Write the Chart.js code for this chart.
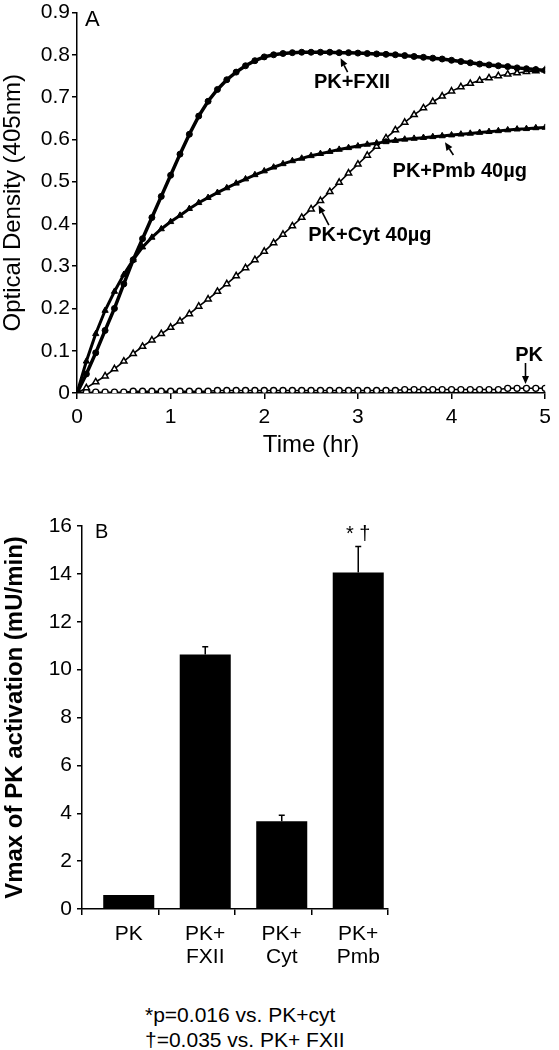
<!DOCTYPE html>
<html>
<head>
<meta charset="utf-8">
<script src="https://cdn.jsdelivr.net/npm/chart.js@4.4.1/dist/chart.umd.min.js"></script>
<style>
  body { margin: 0; background: #fff; }
  #wrap { position: relative; width: 559px; height: 1050px; }
  canvas { position: absolute; left: 0; }
  #chartA { top: 0; }
  #chartB { top: 480px; }
  .note { position: absolute; left: 145px; top: 1002px; font: 21px/25px "Liberation Sans", Arial, sans-serif; color: #000; }
</style>
</head>
<body>
<div id="wrap">
  <canvas id="chartA" width="559" height="470"></canvas>
  <canvas id="chartB" width="559" height="520"></canvas>
  <div class="note">*p=0.016 vs. PK+cyt<br>†=0.035 vs. PK+ FXII</div>
</div>
<script>
// Panel A - optical density over time (hr)
const times = [0, 0.1, 0.2, 0.3, 0.4, 0.5, 0.6, 0.7, 0.8, 0.9,
  1, 1.1, 1.2, 1.3, 1.4, 1.5, 1.6, 1.7, 1.8, 1.9,
  2, 2.1, 2.2, 2.3, 2.4, 2.5, 2.6, 2.7, 2.8, 2.9,
  3, 3.1, 3.2, 3.3, 3.4, 3.5, 3.6, 3.7, 3.8, 3.9,
  4, 4.1, 4.2, 4.3, 4.4, 4.5, 4.6, 4.7, 4.8, 4.9, 5];

const odFXII = [0, .045, .095, .148, .2, .258, .315, .365, .415, .465,
  .515, .565, .612, .655, .69, .718, .741, .759, .774, .786,
  .795, .8, .803, .805, .806, .806, .806, .806, .805, .805,
  .804, .803, .802, .801, .8, .798, .796, .794, .792, .79,
  .787, .784, .781, .778, .776, .774, .772, .769, .767, .765, .763];

const odPmb = [0, .075, .14, .195, .24, .28, .315, .345, .368, .388,
  .405, .42, .436, .45, .462, .474, .485, .496, .506, .516,
  .525, .534, .542, .549, .555, .561, .566, .571, .576, .58,
  .584, .588, .591, .594, .597, .6, .602, .604, .606, .608,
  .61, .612, .614, .616, .618, .62, .622, .624, .625, .627, .628];

const odCyt = [0, .012, .026, .04, .057, .075, .093, .11, .125, .14,
  .155, .17, .187, .205, .222, .24, .258, .277, .296, .315,
  .335, .355, .375, .395, .415, .435, .455, .476, .498, .52,
  .541, .562, .583, .603, .622, .64, .658, .674, .689, .702,
  .714, .724, .732, .739, .745, .75, .754, .757, .76, .762, .764];

const odPK = [.002, .002, .002, .002, .002, .002, .004, .004, .004, .004,
  .004, .004, .004, .004, .004, .006, .006, .006, .006, .006,
  .006, .006, .006, .006, .006, .006, .006, .006, .006, .006,
  .006, .006, .006, .006, .006, .008, .008, .008, .008, .008,
  .008, .008, .008, .008, .008, .008, .011, .011, .011, .011, .011];

// Panel B - Vmax bars
const barCategories = ['PK', 'PK+ FXII', 'PK+ Cyt', 'PK+ Pmb'];
const vmax = [0.58, 10.63, 3.67, 14.06];
const vmaxErr = [0, 0.33, 0.25, 1.08];
const sigMarks = ['', '', '', '* †'];

const FONT = '"Liberation Sans", Arial, sans-serif';
Chart.defaults.font.family = FONT;
Chart.defaults.color = '#000';

// curve labels with arrows (text baseline point, arrow tail, arrow head) in data units
const curveNotes = [
  { text: 'PK+FXII', at: [2.53, 0.721], from: [2.89, 0.759], to: [2.815, 0.792] },
  { text: 'PK+Pmb 40µg', at: [3.37, 0.511], from: [4.02, 0.563], to: [3.93, 0.593] },
  { text: 'PK+Cyt 40µg', at: [2.47, 0.359], from: [2.69, 0.397], to: [2.58, 0.444] },
  { text: 'PK', at: [4.68, 0.076], from: [4.79, 0.071], to: [4.79, 0.021] }
];

function series(vals) {
  return times.map((t, i) => ({ x: t, y: vals[i] }));
}

function arrow(ctx, x0, y0, x1, y1) {
  const a = Math.atan2(y1 - y0, x1 - x0);
  const len = 8, hw = 3.5;
  const bx = x1 - len * Math.cos(a), by = y1 - len * Math.sin(a);
  ctx.lineWidth = 1.6;
  ctx.beginPath();
  ctx.moveTo(x0, y0);
  ctx.lineTo(bx, by);
  ctx.stroke();
  ctx.beginPath();
  ctx.moveTo(x1, y1);
  ctx.lineTo(bx + hw * Math.sin(a), by - hw * Math.cos(a));
  ctx.lineTo(bx - hw * Math.sin(a), by + hw * Math.cos(a));
  ctx.closePath();
  ctx.fill();
}

const annotA = {
  id: 'annotA',
  afterDatasetsDraw(chart) {
    const { ctx, chartArea } = chart;
    const x = chart.scales.x, y = chart.scales.y;
    ctx.save();
    ctx.fillStyle = '#000';
    ctx.strokeStyle = '#000';
    ctx.textBaseline = 'alphabetic';
    ctx.font = '22px ' + FONT;
    ctx.fillText('A', chartArea.left + 8, chartArea.top + 13);
    ctx.font = 'bold 20px ' + FONT;
    curveNotes.forEach(n => {
      ctx.fillText(n.text, x.getPixelForValue(n.at[0]), y.getPixelForValue(n.at[1]));
      arrow(ctx, x.getPixelForValue(n.from[0]), y.getPixelForValue(n.from[1]),
        x.getPixelForValue(n.to[0]), y.getPixelForValue(n.to[1]));
    });
    ctx.restore();
  }
};

const axisLine = { color: '#000', width: 1.5 };

new Chart(document.getElementById('chartA'), {
  type: 'line',
  data: {
    datasets: [
      { label: 'PK+FXII', data: series(odFXII), pointStyle: 'circle', pointRadius: 3,
        borderColor: '#000', backgroundColor: '#000', borderWidth: 3.5, pointBorderWidth: 1 },
      { label: 'PK+Pmb 40µg', data: series(odPmb), pointStyle: 'triangle', pointRadius: 3.6,
        borderColor: '#000', backgroundColor: '#000', borderWidth: 3, pointBorderWidth: 1 },
      { label: 'PK+Cyt 40µg', data: series(odCyt), pointStyle: 'triangle', pointRadius: 3.6,
        borderColor: '#000', backgroundColor: '#fff', borderWidth: 1.6, pointBorderWidth: 1.5 },
      { label: 'PK', data: series(odPK), pointStyle: 'circle', pointRadius: 3,
        borderColor: '#000', backgroundColor: '#fff', borderWidth: 1.5, pointBorderWidth: 1.4 }
    ]
  },
  options: {
    responsive: false,
    animation: false,
    layout: { padding: { top: 12, right: 6, left: 0, bottom: 0 } },
    plugins: { legend: { display: false }, tooltip: { enabled: false } },
    scales: {
      x: {
        type: 'linear', min: 0, max: 5,
        ticks: { stepSize: 1, padding: 8, maxRotation: 0, font: { size: 21, lineHeight: 1 } },
        grid: { drawOnChartArea: false, tickLength: 6, color: '#000', lineWidth: 1.5 },
        border: axisLine,
        title: { display: true, text: 'Time (hr)', font: { size: 24, lineHeight: 1 }, padding: { top: 0, bottom: 13 } },
        afterFit: s => { s.height = 77; }
      },
      y: {
        min: 0, max: 0.9,
        ticks: { stepSize: 0.1, padding: 2, font: { size: 21, lineHeight: 1 } },
        grid: { drawOnChartArea: false, tickLength: 5, color: '#000', lineWidth: 1.5 },
        border: axisLine,
        title: { display: true, text: 'Optical Density (405nm)', font: { size: 24, lineHeight: 1 }, padding: { top: 1, bottom: 0 } },
        afterFit: s => { s.width = 77; }
      }
    }
  },
  plugins: [annotA]
});

// error bars, significance marks and panel letter
const barExtras = {
  id: 'barExtras',
  afterDatasetsDraw(chart) {
    const { ctx, chartArea } = chart;
    const y = chart.scales.y;
    const meta = chart.getDatasetMeta(0);
    ctx.save();
    ctx.strokeStyle = '#000';
    ctx.fillStyle = '#000';
    ctx.lineWidth = 1.5;
    meta.data.forEach((bar, i) => {
      if (!vmaxErr[i]) return;
      const top = y.getPixelForValue(vmax[i] + vmaxErr[i]);
      ctx.beginPath();
      ctx.moveTo(bar.x, bar.y);
      ctx.lineTo(bar.x, top);
      ctx.moveTo(bar.x - 3, top);
      ctx.lineTo(bar.x + 3, top);
      ctx.stroke();
      if (sigMarks[i]) {
        ctx.font = '20px ' + FONT;
        ctx.textAlign = 'center';
        ctx.fillText(sigMarks[i], bar.x, top - 7);
      }
    });
    ctx.textAlign = 'left';
    ctx.font = '20px ' + FONT;
    ctx.fillText('B', chartArea.left + 13, chartArea.top + 12);
    ctx.restore();
  }
};

new Chart(document.getElementById('chartB'), {
  type: 'bar',
  data: {
    labels: barCategories,
    datasets: [{
      data: vmax.map((v, i) => ({ x: i, y: v })),
      xAxisID: 'xb',
      backgroundColor: '#000',
      borderWidth: 0,
      barPercentage: 0.667,
      categoryPercentage: 1
    }]
  },
  options: {
    responsive: false,
    animation: false,
    layout: { padding: { top: 46, right: 171, left: 0, bottom: 0 } },
    plugins: { legend: { display: false }, tooltip: { enabled: false } },
    scales: {
      x: {
        type: 'category', position: 'bottom', weight: 0, offset: true,
        grid: { offset: true, drawOnChartArea: false, tickLength: 6, color: '#000', lineWidth: 1.5 },
        border: axisLine,
        ticks: { display: false }
      },
      xb: {
        type: 'linear', position: 'bottom', weight: 1, offset: false, min: -0.611, max: 3.389,
        grid: { display: false, drawTicks: false, offset: false },
        border: { display: false },
        afterBuildTicks: s => { s.ticks = barCategories.map((c, i) => ({ value: i })); },
        ticks: {
          padding: 8, maxRotation: 0, autoSkip: false,
          font: { size: 21, lineHeight: 1.1 },
          callback: v => barCategories[v].split(' ')
        },
        afterFit: s => { s.height = 85; }
      },
      y: {
        min: 0, max: 16,
        ticks: { stepSize: 2, padding: 5, font: { size: 21, lineHeight: 1 } },
        grid: { drawOnChartArea: false, tickLength: 5, color: '#000', lineWidth: 1.5 },
        border: axisLine,
        title: { display: true, text: 'Vmax of PK activation (mU/min)', font: { size: 24, weight: 'bold', lineHeight: 1 }, padding: { top: 3, bottom: 0 } },
        afterFit: s => { s.width = 82; }
      }
    }
  },
  plugins: [barExtras]
});
</script>
</body>
</html>
